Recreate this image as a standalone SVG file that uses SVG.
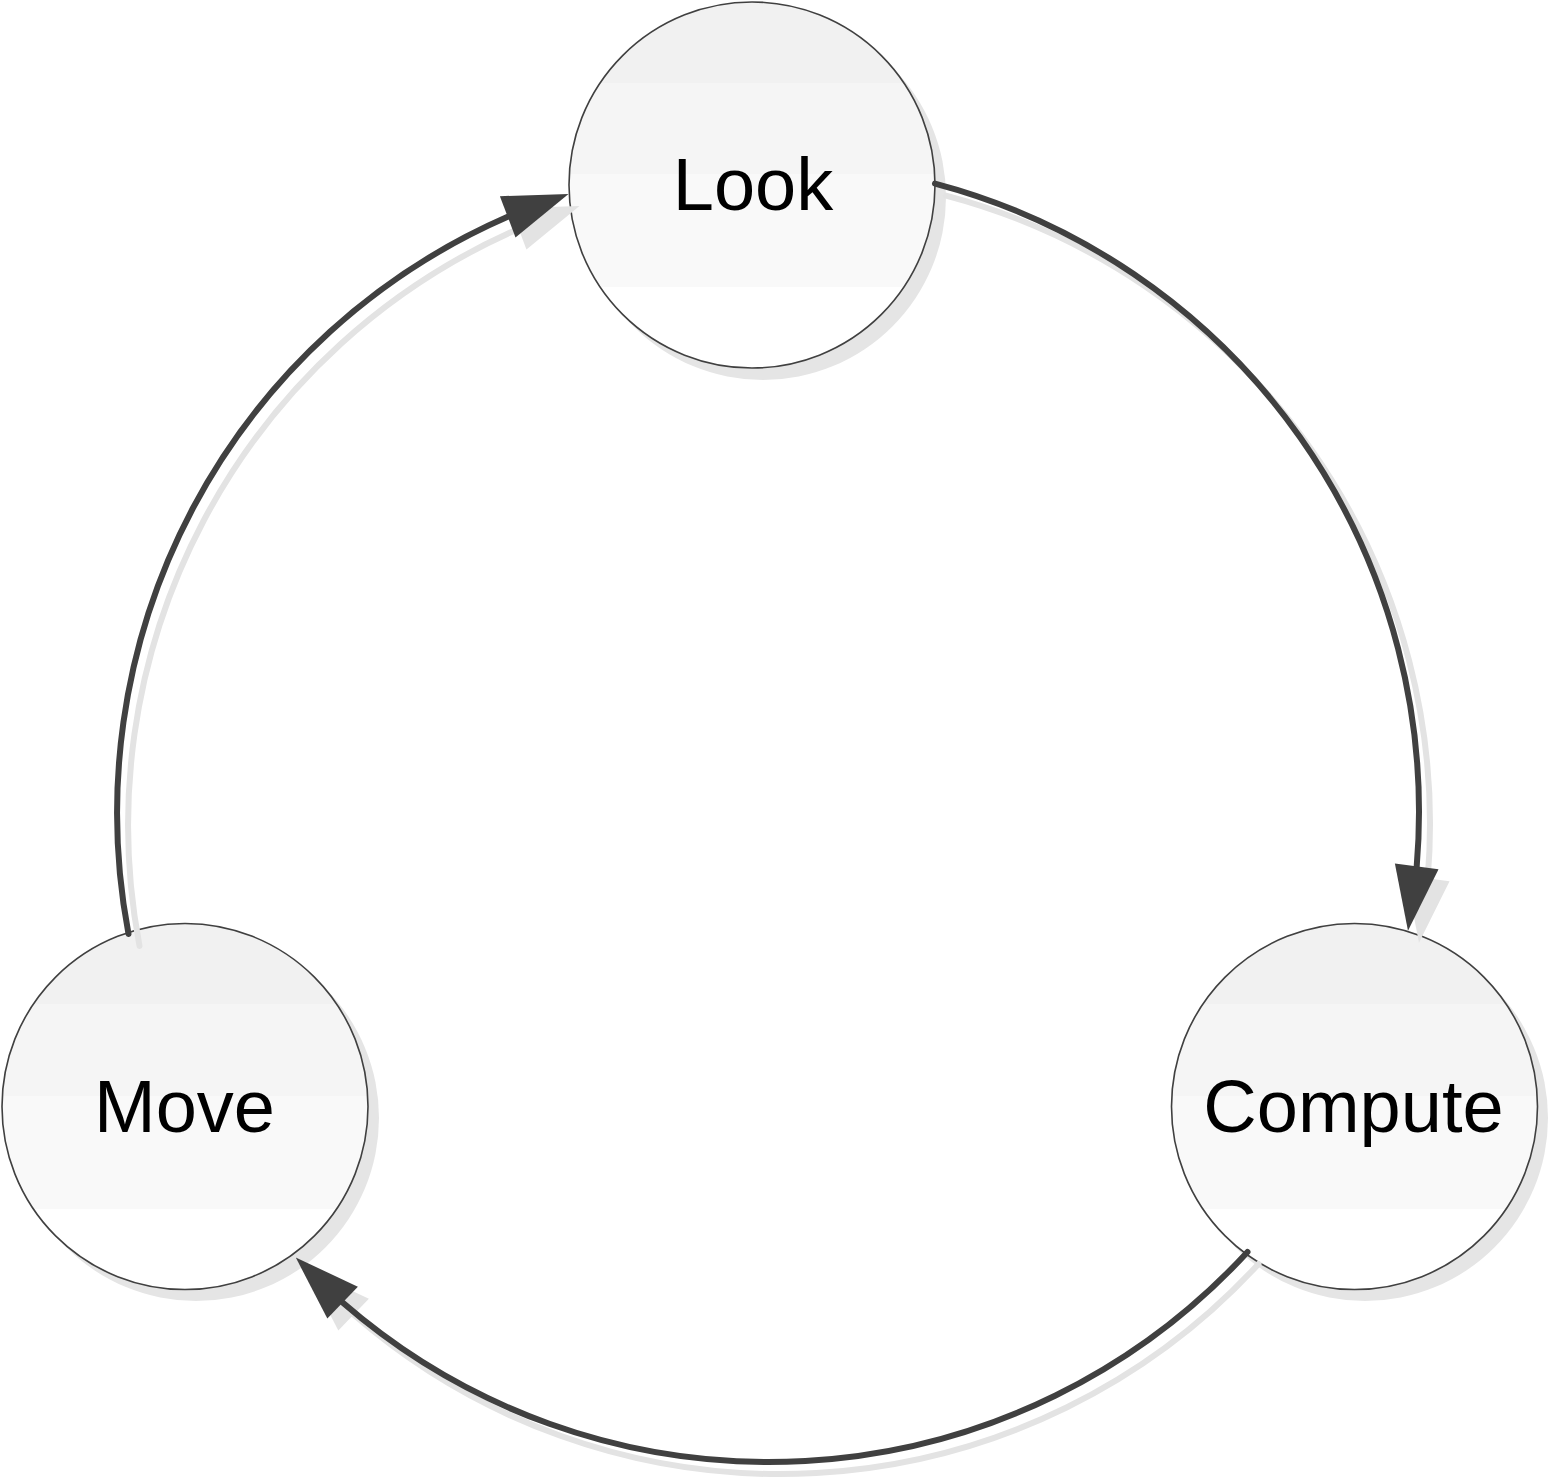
<svg xmlns="http://www.w3.org/2000/svg" width="1551" height="1482" viewBox="0 0 1551 1482">
  <style>
    .shadow { fill: #e5e5e5; stroke: none; }
    .node { fill: url(#band); stroke: #404040; stroke-width: 1.6; }
    .label { font-family: "Liberation Sans", Arial, sans-serif; font-size: 74px; fill: #000; text-anchor: middle; }
    .edge { fill: none; stroke: #404040; stroke-width: 6; stroke-linecap: round; marker-end: url(#arrow); }
    .edge-shadow { fill: none; stroke: #e3e3e3; stroke-width: 6; stroke-linecap: round; marker-end: url(#arrowShadow); }
  </style>
  <defs>
    <linearGradient id="band" x1="0" y1="0" x2="0" y2="1">
      <stop offset="0" stop-color="#f1f1f1"/>
      <stop offset="0.22" stop-color="#f1f1f1"/>
      <stop offset="0.22" stop-color="#f5f5f5"/>
      <stop offset="0.47" stop-color="#f5f5f5"/>
      <stop offset="0.47" stop-color="#f9f9f9"/>
      <stop offset="0.78" stop-color="#f9f9f9"/>
      <stop offset="0.78" stop-color="#ffffff"/>
      <stop offset="1" stop-color="#ffffff"/>
    </linearGradient>
    <marker id="arrow" markerUnits="userSpaceOnUse" viewBox="-5 -30 80 60" markerWidth="80" markerHeight="60" refX="0" refY="0" orient="auto">
      <path d="M1.1,-22 L64.9,3.3 L-1.1,22 Z" fill="#404040"/>
    </marker>
    <marker id="arrowShadow" markerUnits="userSpaceOnUse" viewBox="-5 -30 80 60" markerWidth="80" markerHeight="60" refX="0" refY="0" orient="auto">
      <path d="M1.1,-22 L64.9,3.3 L-1.1,22 Z" fill="#e3e3e3"/>
    </marker>
  </defs>

  <rect x="0" y="0" width="1551" height="1482" fill="#ffffff"/>

  <g id="node-look">
    <circle class="shadow" cx="763" cy="197" r="183"/>
    <circle class="node" cx="752" cy="185" r="183"/>
    <text class="label" x="753" y="210">Look</text>
  </g>

  <g id="node-compute">
    <circle class="shadow" cx="1365" cy="1118" r="183"/>
    <circle class="node" cx="1354.5" cy="1106.5" r="183"/>
    <text class="label" x="1353.5" y="1132">Compute</text>
  </g>

  <g id="node-move">
    <circle class="shadow" cx="196" cy="1118" r="183"/>
    <circle class="node" cx="185" cy="1106.5" r="183"/>
    <text class="label" x="184.5" y="1132">Move</text>
  </g>

  <g id="connectors">
    <g id="connector-shadows" transform="translate(11,12)">
      <path class="edge-shadow" d="M935,183.6 A650,650 0 0 1 1416.7,866.4"/>
      <path class="edge-shadow" d="M1247.5,1252 A650,650 0 0 1 342.6,1302.6"/>
      <path class="edge-shadow" d="M128.5,934 A650,650 0 0 1 507.7,216.8"/>
    </g>
    <path id="edge-look-compute" class="edge" d="M935,183.6 A650,650 0 0 1 1416.7,866.4"/>
    <path id="edge-compute-move" class="edge" d="M1247.5,1252 A650,650 0 0 1 342.6,1302.6"/>
    <path id="edge-move-look" class="edge" d="M128.5,934 A650,650 0 0 1 507.7,216.8"/>
  </g>
</svg>
